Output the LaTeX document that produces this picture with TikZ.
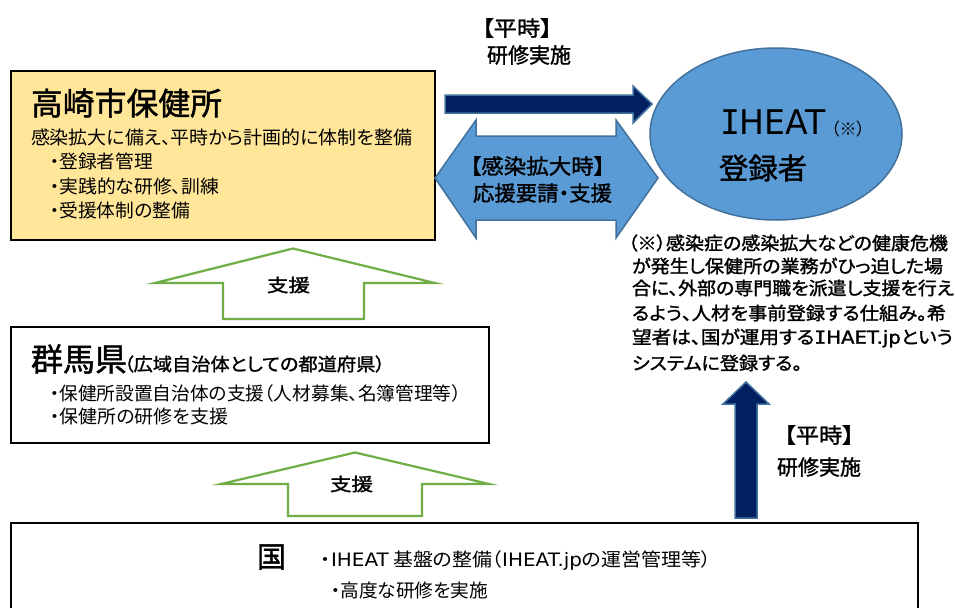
\documentclass[tikz,border=0pt]{standalone}
\usepackage{graphicx}
\usepackage{fontspec}
\setmainfont{Noto Sans CJK JP}[RawFeature={+palt}]
\newfontfamily\medfont{Noto Sans CJK JP}[RawFeature={+palt},FakeBold=1.4]
\newfontfamily\latin{DejaVu Sans}
\newfontfamily\latinmed{DejaVu Sans}[FakeBold=1.4]
\newfontfamily\serifI{DejaVu Sans Mono}
\newfontfamily\serifImed{DejaVu Sans Mono}[FakeBold=1.4]
\definecolor{boxyellow}{HTML}{FFE699}
\definecolor{midblue}{HTML}{5B9BD5}
\definecolor{edgeblue}{HTML}{41719C}
\definecolor{navy}{HTML}{002060}
\definecolor{leaf}{HTML}{70AD47}
\usetikzlibrary{shapes.geometric}
\newcommand{\fs}[1]{\fontsize{#1pt}{#1pt}\selectfont}
\newcommand{\fitw}[2]{\resizebox{#1pt}{\height}{#2}}
\tikzset{
  x=1pt,y=-1pt,
  txt/.style={anchor=west,inner sep=0pt,outer sep=0pt,text=black},
  panel/.style={draw=black,line width=2.6pt,fill=white},
  navyarrow/.style={fill=navy,draw=edgeblue,line width=1.5pt,line join=miter},
  bluearrow/.style={fill=midblue,draw=edgeblue,line width=1.5pt,line join=miter},
  greenarrow/.style={fill=white,draw=leaf,line width=2.2pt,line join=miter,miter limit=10},
  t18/.style={txt,font=\fs{18.5}},
  bd18/.style={txt,font=\fs{18}\medfont},
  bd21/.style={txt,font=\fs{21}\medfont},
}
\begin{document}
\begin{tikzpicture}
\useasboundingbox (0,0) rectangle (955,608);
\fill[white] (0,0) rectangle (955,608);
% Panels
\draw[panel,fill=boxyellow] (11,71) rectangle (435,240);
\draw[panel] (11,327) rectangle (489,443);
\draw[panel] (11,608) -- (11,523) -- (918,523) -- (918,608);
% Blue arrows and ellipse
\node[draw=edgeblue,fill=midblue,line width=1.5pt,ellipse,minimum width=252pt,minimum height=172pt,inner sep=0pt] (iheat) at (776,134) {};
\draw[navyarrow] (445,95)--(633,95)--(633,86)--(652,104)--(633,123)--(633,113)--(445,113)--cycle;
\draw[bluearrow] (435,178)--(476,120)--(476,136)--(616,136)--(616,120)--(658,178)--(616,238)--(616,220)--(476,220)--(476,238)--cycle;
\draw[navyarrow] (735,518)--(735,404)--(723,404)--(746,382)--(769,404)--(757,404)--(757,518)--cycle;
% Green arrows
\draw[greenarrow] (223,319)--(223,283)--(155,283)--(293,248.5)--(435,283)--(364,283)--(364,319)--cycle;
\draw[greenarrow] (288,516)--(288,484)--(221,484)--(355,452.5)--(489,484)--(422,484)--(422,516)--cycle;
% Box 1
\node[txt,font=\fs{31.5}\medfont] (t1) at (31,103) {\fitw{191}{高崎市保健所}};
\node[t18] (t1a) at (31,137) {\fitw{381}{感染拡大に備え、平時から計画的に体制を整備}};
\node[t18] (t1b) at (50,161) {\fitw{103}{・登録者管理}};
\node[t18] (t1c) at (50,186) {\fitw{169}{・実践的な研修、訓練}};
\node[t18] (t1d) at (50,210) {\fitw{140}{・受援体制の整備}};
% Box 2
\node[txt,font=\fs{32}\medfont] (t2) at (31,359) {\fitw{96}{群馬県}};
\node[txt,font=\fs{18}\medfont] (t2s) at (124,364) {\fitw{261}{（広域自治体としての都道府県）}};
\node[t18] (t2a) at (50,393) {\fitw{411}{・保健所設置自治体の支援（人材募集、名簿管理等）}};
\node[t18] (t2b) at (50,416) {\fitw{178}{・保健所の研修を支援}};
% Box 3
\node[txt,font=\fs{29}\medfont] (t3) at (257,557) {\fitw{29}{国}};
\node[t18] (t3a) at (320,560.5) {\fitw{391}{・\kern1pt{\latin IHEAT} 基盤の整備（{\latin IHEAT.jp}の運営管理等）}};
\node[t18] (t3b) at (331,590) {\fitw{157}{・高度な研修を実施}};
% Arrow labels
\node[bd18] (g1) at (267,285) {\fitw{43}{支援}};
\node[bd18] (g2) at (330,484) {\fitw{43}{支援}};
\node[bd21] (h1) at (482,28) {\fitw{70}{【平時】}};
\node[bd21] (h2) at (487,55) {\fitw{84}{研修実施}};
\node[bd21] (h3) at (470,166) {\fitw{135}{【感染拡大時】}};
\node[bd21] (h4) at (473,193) {\fitw{139}{応援要請・支援}};
\node[bd21] (h5) at (784,435) {\fitw{70}{【平時】}};
\node[bd21] (h6) at (777,467) {\fitw{84}{研修実施}};
% Ellipse text
\node[txt,font=\fs{34}] (e1) at (720,122) {\fitw{106}{{\serifI I}{\latin HEAT}}};
\node[txt,font=\fs{17}] (e2) at (831,129) {（※）};
\node[txt,font=\fs{29}\medfont] (e3) at (719,168) {\fitw{88}{登録者}};
% Note
\node[bd18] (n1) at (628,243) {\fitw{320}{（※）感染症の感染拡大などの健康危機}};
\node[bd18] (n2) at (632,266) {\fitw{311}{が発生し保健所の業務がひっ迫した場}};
\node[bd18] (n3) at (632,288) {\fitw{322}{合に、外部の専門職を派遣し支援を行え}};
\node[bd18] (n4) at (632,313) {\fitw{314}{るよう、人材を事前登録する仕組み。希}};
\node[bd18] (n5) at (632,338) {\fitw{321}{望者は、国が運用する{\serifImed I}{\latinmed HAET.jp}という}};
\node[bd18] (n6) at (632,363) {\fitw{170}{システムに登録する。}};
\end{tikzpicture}
\end{document}
